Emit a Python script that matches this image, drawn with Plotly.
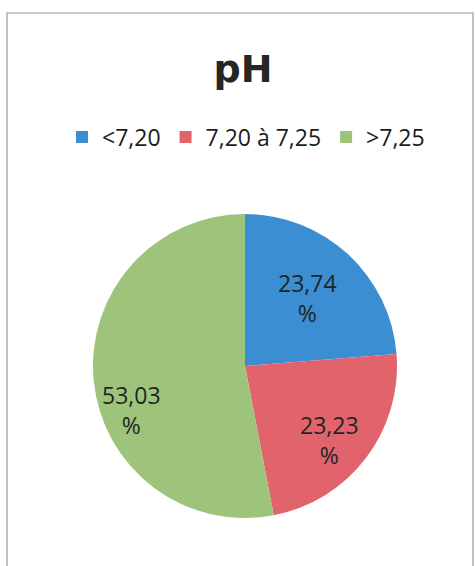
import math
import plotly.graph_objects as go

# pH distribution (percent of cases)
categories = ["<7,20", "7,20 à 7,25", ">7,25"]
shares = [23.74, 23.23, 53.03]
colors = ["#3B8ED1", "#E1646D", "#9EC47B"]

W, H = 475, 566
cx, cy, r = 245, 366, 152  # pie centre and radius in pixels

# data-label placement: radial fraction and angular nudge (degrees) per slice
label_radius = [0.61, 0.74, 0.80]
label_shift = [0, 4, -16]

fig = go.Figure(
    go.Pie(
        labels=categories,
        values=shares,
        sort=False,
        direction="clockwise",
        rotation=0,
        marker=dict(colors=colors, line=dict(width=0)),
        textinfo="none",
        hoverinfo="label+value",
        domain=dict(x=[(cx - r) / W, (cx + r) / W], y=[1 - (cy + r) / H, 1 - (cy - r) / H]),
    )
)

# value labels, placed from each slice's angular midpoint (clockwise from 12 o'clock)
total = sum(shares)
start = 0.0
annotations = []
for v, rf, shift in zip(shares, label_radius, label_shift):
    mid = (start + v / 2) / total * 360 + shift
    start += v
    a = math.radians(mid)
    px = cx + rf * r * math.sin(a)
    py = cy - rf * r * math.cos(a)
    annotations.append(
        dict(
            x=px / W,
            y=1 - py / H,
            xref="paper",
            yref="paper",
            text=f"{v:.2f}".replace(".", ",") + "<br>%",
            showarrow=False,
            xanchor="center",
            yanchor="middle",
            align="center",
            font=dict(family="Open Sans", size=23, color="#1e2626"),
        )
    )

fig.update_layout(
    width=W,
    height=H,
    margin=dict(l=0, r=0, t=0, b=0),
    paper_bgcolor="white",
    separators=", ",
    title=dict(
        text="<b>pH</b>",
        x=243 / W,
        xanchor="center",
        y=1 - 69 / H,
        yanchor="middle",
        font=dict(family="DejaVu Sans", size=38, color="#262626"),
    ),
    legend=dict(
        orientation="h",
        x=246 / W,
        xanchor="center",
        y=1 - 137 / H,
        yanchor="middle",
        font=dict(family="Open Sans", size=23, color="#1c1c1c"),
        traceorder="normal",
    ),
    annotations=annotations,
    shapes=[
        dict(
            type="rect",
            xref="paper",
            yref="paper",
            x0=7 / W,
            x1=473 / W,
            y0=-0.05,
            y1=1 - 13 / H,
            line=dict(color="#8e9ba6", width=1.2),
        )
    ],
)

fig.write_html("out.html")
